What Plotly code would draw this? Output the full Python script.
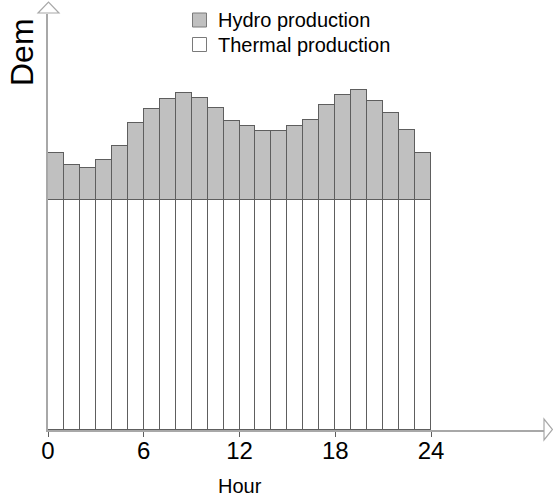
import plotly.graph_objects as go

# ---- data ----
hours = list(range(24))
thermal = [230] * 24
hydro = [47, 35, 32, 40, 54, 77, 91, 101, 107, 102, 92, 79,
         74, 69, 69, 74, 80, 95, 105, 110, 99, 87, 70, 47]
tick_vals = [0, 6, 12, 18, 24]
tick_text = ["0", "6", "12", "18", "24"]
series_names = ["Hydro production", "Thermal production"]
series_colors = ["#c0c0c0", "white"]

W, H = 553, 499
# plot area in page pixels: x 48..545, y 14..430
PL, PR, PT, PB = 48, 545, 14, 430
L, R, T, B = PL, W - PR, PT, H - PB
PW, PH = PR - PL, PB - PT
PX_PER_HOUR = 15.96
XMAX = PW / PX_PER_HOUR
YMAX = PH

def px(xp):  # page pixel x -> paper
    return (xp - PL) / PW

def py(yp):  # page pixel y -> paper
    return (PB - yp) / PH

FONT = "Liberation Sans, Arial, sans-serif"
EDGE = "#5e5e5e"
AX = "#a8a8a8"

fig = go.Figure()
fig.add_trace(go.Bar(x=[h + 0.5 for h in hours], y=thermal, width=1,
                     name=series_names[1], showlegend=False,
                     marker=dict(color=series_colors[1], line=dict(color=EDGE, width=1))))
fig.add_trace(go.Bar(x=[h + 0.5 for h in hours], y=hydro, width=1,
                     name=series_names[0], showlegend=False,
                     marker=dict(color=series_colors[0], line=dict(color=EDGE, width=1))))

shapes = [
    # y arrow head
    dict(type="path", xref="paper", yref="paper",
         path=f"M{px(38)},{py(13)} L{px(59)},{py(13)} L{px(48.5)},{py(2)} Z",
         line=dict(color=AX, width=1.2), fillcolor="white"),
    # x arrow head
    dict(type="path", xref="paper", yref="paper",
         path=f"M{px(544)},{py(419)} L{px(544)},{py(440)} L{px(552.5)},{py(429.5)} Z",
         line=dict(color=AX, width=1.2), fillcolor="white"),
]

annotations = [
    dict(text="Hour", x=12, xref="x", y=py(486), yref="paper", showarrow=False,
         font=dict(family=FONT, size=20, color="black"), xanchor="center", yanchor="middle"),
    dict(text="Dem", x=px(22), xref="paper", y=py(52), yref="paper", showarrow=False,
         textangle=-90, font=dict(family=FONT, size=32, color="black"),
         xanchor="center", yanchor="middle"),
]

# legend (drawn manually for exact spacing)
leg_rows_y = [20, 44.5]
for name, col, yc in zip(series_names, series_colors, leg_rows_y):
    shapes.append(dict(type="rect", xref="paper", yref="paper",
                       x0=px(192.5), x1=px(206.5), y0=py(yc - 7), y1=py(yc + 7),
                       line=dict(color="#7a7a7a", width=1), fillcolor=col))
    annotations.append(dict(text=name, x=px(216), xref="paper", y=py(yc), yref="paper",
                            showarrow=False, xanchor="left", yanchor="middle",
                            font=dict(family=FONT, size=20, color="black")))

fig.update_layout(
    width=W, height=H,
    margin=dict(l=L, r=R, t=T, b=B),
    paper_bgcolor="white", plot_bgcolor="white",
    barmode="stack", bargap=0,
    showlegend=False,
    xaxis=dict(range=[0, XMAX], showgrid=False, zeroline=False,
               showline=True, linecolor=AX, linewidth=1.5,
               tickmode="array", tickvals=tick_vals, ticktext=tick_text,
               ticks="outside", ticklen=5, tickcolor=EDGE,
               ticklabelstandoff=-7,
               tickfont=dict(family=FONT, size=24, color="black")),
    yaxis=dict(range=[0, YMAX], showgrid=False, zeroline=False,
               showline=True, linecolor=AX, linewidth=1.5,
               showticklabels=False, ticks=""),
    shapes=shapes, annotations=annotations,
)

fig.write_html("out.html", config={"displayModeBar": False},
               post_script="document.body.style.margin='0';document.body.style.overflow='hidden';")
